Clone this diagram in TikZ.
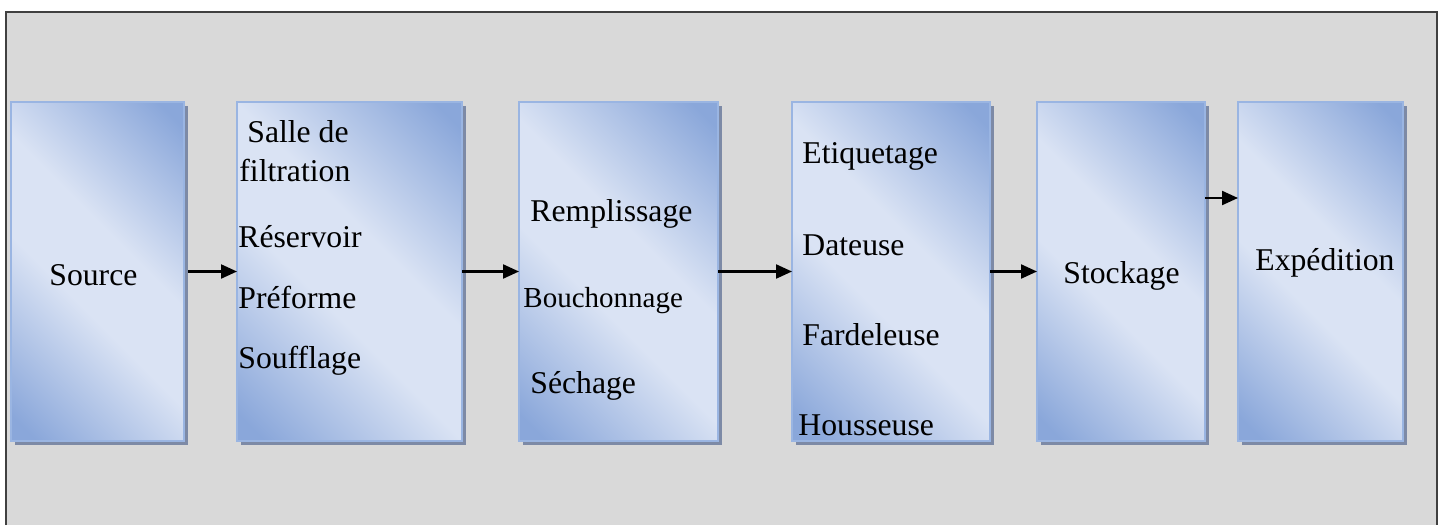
\documentclass[tikz,border=0pt]{standalone}
\usepackage{fontspec}
\setmainfont{Liberation Serif}
\usetikzlibrary{arrows.meta, positioning, shadows}

\definecolor{paneback}{HTML}{D9D9D9}
\definecolor{paneline}{HTML}{404040}
\definecolor{boxlight}{HTML}{DAE3F4}
\definecolor{boxdark}{HTML}{8AA7DA}
\definecolor{boxedge}{HTML}{9AB5E2}
\definecolor{boxshade}{HTML}{7D8AA6}

% light band along the diagonal, darker towards two corners
\pgfdeclareverticalshading{boxfill}{100bp}{color(0bp)=(boxdark); color(18bp)=(boxdark);
  color(43bp)=(boxlight); color(57bp)=(boxlight); color(82bp)=(boxdark); color(100bp)=(boxdark)}

\begin{document}
\begin{tikzpicture}[
  stage/.style = {draw=boxedge, line width=0.75pt, shading=boxfill, shading angle=-45,
                  minimum height=169.5pt, inner sep=0pt, outer sep=0pt,
                  drop shadow={shadow xshift=2pt, shadow yshift=-2pt, fill=boxshade, opacity=1}},
  item/.style  = {anchor=base west, inner sep=0pt, font=\fontsize{15.85}{19}\selectfont},
  arrow/.style = {line width=1.1pt, -{Triangle[length=8pt, width=7pt]}}
]

  \useasboundingbox (0,0) rectangle (719.5pt,-262.5pt);

  % grey panel, open at the bottom
  \fill[paneback] (3pt,-6pt) rectangle (718.5pt,-262.5pt);
  \draw[paneline, line width=1pt] (3pt,-262.5pt) |- (718.5pt,-6pt) -- (718.5pt,-262.5pt);

  % process stages
  \node[stage, minimum width=86.5pt] (source) at (48.75pt,-135.75pt) {};
  \node[stage, minimum width=112.5pt, right=26.5pt of source] (filtration) {};
  \node[stage, minimum width=99.5pt, right=28.5pt of filtration] (filling) {};
  \node[stage, minimum width=99pt, right=37pt of filling] (labelling) {};
  \node[stage, minimum width=84pt, right=23.5pt of labelling] (storage) {};
  \node[stage, minimum width=82.5pt, right=16.5pt of storage] (shipping) {};

  % texts of each stage
  \node[item] (source-t) at ([shift={(19pt,-91.5pt)}]source.north west) {Source};

  \node[item] (filt-a) at ([shift={(5pt,-20pt)}]filtration.north west) {Salle de};
  \node[item] (filt-b) at ([shift={(1pt,-39.5pt)}]filtration.north west) {filtration};
  \node[item] (filt-c) at ([shift={(0.5pt,-72.5pt)}]filtration.north west) {Réservoir};
  \node[item] (filt-d) at ([shift={(0.5pt,-103pt)}]filtration.north west) {Préforme};
  \node[item] (filt-e) at ([shift={(0.5pt,-133pt)}]filtration.north west) {Soufflage};

  \node[item] (fill-a) at ([shift={(5.5pt,-59.5pt)}]filling.north west) {Remplissage};
  \node[item, font=\fontsize{14.5}{17}\selectfont] (fill-b)
    at ([shift={(2pt,-102.5pt)}]filling.north west) {Bouchonnage};
  \node[item] (fill-c) at ([shift={(5.5pt,-145.5pt)}]filling.north west) {Séchage};

  \node[item] (lab-a) at ([shift={(5pt,-30.5pt)}]labelling.north west) {Etiquetage};
  \node[item] (lab-b) at ([shift={(5pt,-76.5pt)}]labelling.north west) {Dateuse};
  \node[item] (lab-c) at ([shift={(5pt,-121.5pt)}]labelling.north west) {Fardeleuse};
  \node[item] (lab-d) at ([shift={(3pt,-166.5pt)}]labelling.north west) {Housseuse};

  \node[item] (storage-t) at ([shift={(13pt,-90.5pt)}]storage.north west) {Stockage};
  \node[item] (shipping-t) at ([shift={(8.5pt,-84pt)}]shipping.north west) {Expédition};

  % flow between stages
  \draw[arrow] ([xshift=2pt]source.east) -- (filtration.west);
  \draw[arrow] (filtration.east) -- (filling.west);
  \draw[arrow] (filling.east) -- (labelling.west);
  \draw[arrow] (labelling.east) -- (storage.west);
  \draw[arrow] ([yshift=36.75pt]storage.east) -- ([yshift=36.75pt]shipping.west);

\end{tikzpicture}
\end{document}
